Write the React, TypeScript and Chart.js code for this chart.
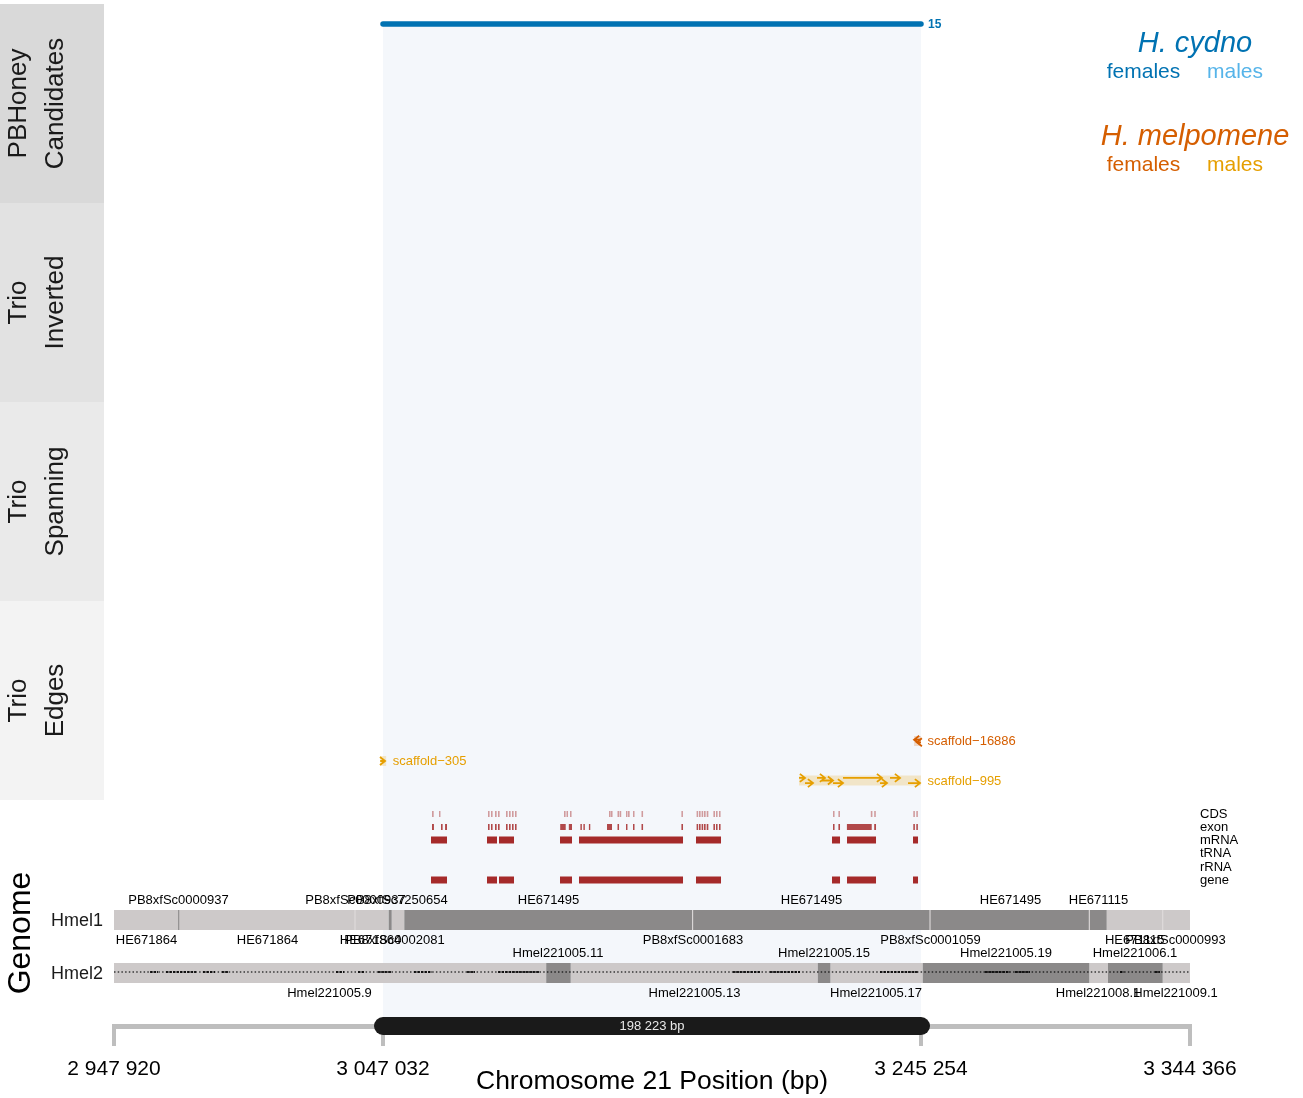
import React, { useEffect, useRef } from "react";
import { Chart, registerables } from "chart.js";

Chart.register(...registerables);

// ---------------- data ----------------
const X_RANGE = [2947920, 3344366];
const AXIS_TICKS = [2947920, 3047032, 3245254, 3344366];
const HIGHLIGHT_REGION = [3047032, 3245254];

const PBHONEY_CANDIDATES = [[3047032, 3245254]];
const PBHONEY_SUPPORT = [15];

const SCAFFOLD_NAMES = ["scaffold\u221216886", "scaffold\u2212305", "scaffold\u2212995"];
const SCAFFOLD_GROUP = ["melF", "melM", "melM"];
const SCAFFOLD_BANDS = [
  [3242700, 3245254],
  [3046000, 3048200],
  [3200308, 3245254],
];
// [scaffold index, start, end (arrow head), lane]
const SCAFFOLD_ALIGNMENTS = [
  [0, 3245254, 3242700, -0.5],
  [0, 3245254, 3243700, 0.5],
  [1, 3046000, 3047800, 0],
  [2, 3200308, 3202519, -1],
  [2, 3202519, 3205467, 1],
  [2, 3206940, 3209888, -1],
  [2, 3208783, 3212836, 0],
  [2, 3212836, 3216520, 1],
  [2, 3216520, 3230890, -1],
  [2, 3230153, 3232732, 1],
  [2, 3233837, 3237522, -1],
  [2, 3240469, 3244891, 1],
];

const FEATURE_TYPES = ["CDS", "exon", "mRNA", "tRNA", "rRNA", "gene"];
const CDS = [
  [3065087, 3065700], [3067666, 3068200],
  [3085720, 3086300], [3086826, 3087400], [3088299, 3088900], [3089405, 3090000],
  [3092352, 3092950], [3093458, 3094050], [3094563, 3095150], [3095668, 3096250],
  [3113723, 3114300], [3114643, 3115200], [3115933, 3116500],
  [3130303, 3130900], [3131040, 3131600], [3133435, 3134000], [3134208, 3134800],
  [3136566, 3137100], [3137303, 3137900], [3139146, 3139700], [3142277, 3142850],
  [3156979, 3157550],
  [3162579, 3163150], [3163463, 3164050], [3164421, 3165000], [3165306, 3165900],
  [3166300, 3166900], [3168769, 3169350], [3169727, 3170300], [3170832, 3171400],
  [3212836, 3213400], [3214825, 3215400],
  [3226763, 3227350], [3228016, 3228600],
  [3242422, 3243000], [3243527, 3244100],
];
const EXON = [
  [3065087, 3065800], [3068400, 3069000], [3069900, 3070614],
  [3085720, 3086300], [3086826, 3087400], [3088299, 3088900], [3089405, 3090000],
  [3092352, 3092950], [3093458, 3094050], [3094563, 3095150], [3095668, 3096250],
  [3112323, 3114349], [3115500, 3116670],
  [3119765, 3120300], [3120870, 3121400], [3122897, 3123400],
  [3129566, 3131408], [3133435, 3134000], [3136566, 3137100], [3139146, 3139700], [3142277, 3142850],
  [3156979, 3157568],
  [3162579, 3163150], [3163463, 3164050], [3164421, 3165000], [3165306, 3165900],
  [3166300, 3166900], [3168769, 3169350], [3169727, 3170300], [3170832, 3171400],
  [3212836, 3213400], [3214825, 3215415],
  [3217957, 3227095], [3228016, 3228679],
  [3242422, 3243000], [3243527, 3244100],
];
const MRNA = [
  [3064719, 3070614], [3085352, 3089036], [3089773, 3095300], [3112249, 3116670],
  [3119249, 3157568], [3162358, 3171569], [3212467, 3215415], [3217994, 3228679],
  [3242312, 3244154],
];
const TRNA: number[][] = [];
const RRNA: number[][] = [];
const GENE = [
  [3064719, 3070614], [3085352, 3089036], [3089773, 3095300], [3112249, 3116670],
  [3119249, 3157568], [3162358, 3171569], [3212467, 3215415], [3217994, 3228679],
  [3242312, 3244154],
];

const HMEL1_CONTIGS = [
  [2947920, 3049133], [3049133, 3050239], [3050239, 3054881], [3054881, 3313680], [3313680, 3344366],
];
const HMEL1_SHADE = ["light", "dark", "light", "dark", "light"];
const HMEL1_BREAKS = [2971759, 3036716, 3161105, 3248575, 3307269, 3334314];
const HMEL1_BREAK_SHADE = ["dark", "pale", "pale", "pale", "pale", "pale"];
const HMEL1_TOP_LABELS = ["PB8xfSc0000937", "PB8xfSc0000937", "PB8xfSc7250654", "HE671495", "HE671495", "HE671495", "HE671115"];
const HMEL1_TOP_POS = [2971685, 3036901, 3052376, 3108012, 3204914, 3278235, 3310659];
const HMEL1_BOTTOM_LABELS = ["HE671864", "HE671864", "HE671864", "PB8xfSc0002081", "PB8xfSc0001683", "PB8xfSc0001059", "HE671115", "PB8xfSc0000993"];
const HMEL1_BOTTOM_POS = [2959895, 3004477, 3042427, 3051270, 3161253, 3248759, 3323997, 3339030];

const HMEL2_CONTIGS = [
  [2947920, 3107164], [3107164, 3116191], [3116191, 3207235], [3207235, 3211878],
  [3211878, 3245886], [3245886, 3307269], [3307269, 3314159], [3314159, 3334314], [3334314, 3344366],
];
const HMEL2_SHADE = ["light", "dark", "light", "dark", "light", "dark", "light", "dark", "light"];
const HMEL2_GAPS = [
  [2961184, 2964132], [2967079, 2978133], [2980712, 2985133], [2987713, 2989923],
  [3029716, 3032664], [3037822, 3040033], [3045191, 3050349], [3058455, 3065087],
  [3077983, 3080930], [3089405, 3104880], [3175991, 3185939], [3189623, 3200677],
  [3230153, 3244154], [3268840, 3278051], [3279893, 3285420], [3318581, 3320055],
  [3331476, 3333319],
];
const HMEL2_TOP_LABELS = ["Hmel221005.11", "Hmel221005.15", "Hmel221005.19", "Hmel221006.1"];
const HMEL2_TOP_POS = [3111512, 3209520, 3276577, 3324107];
const HMEL2_BOTTOM_LABELS = ["Hmel221005.9", "Hmel221005.13", "Hmel221005.17", "Hmel221008.1", "Hmel221009.1"];
const HMEL2_BOTTOM_POS = [3027321, 3161805, 3228679, 3310475, 3339030];

// ---------------- layout & style ----------------
const W = 1303;
const H = 1098;
const PLOT = { left: 114, right: 1190, top: 4, bottom: 1026 };
const STRIP_W = 104;
const FONT = '"Liberation Sans", Arial, Helvetica, sans-serif';
const STRIPS = [
  { lines: ["PBHoney", "Candidates"], top: 4, bottom: 203, fill: "#D9D9D9" },
  { lines: ["Trio", "Inverted"], top: 203, bottom: 402, fill: "#E2E2E2" },
  { lines: ["Trio", "Spanning"], top: 402, bottom: 601, fill: "#EAEAEA" },
  { lines: ["Trio", "Edges"], top: 601, bottom: 800, fill: "#F3F3F3" },
];
const ROW = {
  pbhoney: 24,
  scaffold: [741, 761, 780.5],
  feature: [814, 827, 840, 853, 867, 880],
  hmel1: 920, hmel1Top: 900, hmel1Bottom: 940,
  hmel2: 973, hmel2Top: 953, hmel2Bottom: 993,
  axisBar: 1026,
};
const LANE_OFFSET = 2.6;
const COLORS: Record<string, string> = {
  cydF: "#0072B2", cydM: "#56B4E9", melF: "#D55E00", melM: "#E69F00",
  melFBand: "rgba(213,94,0,0.2)", melMBand: "rgba(230,159,0,0.2)",
  feature: "#A52A2A", cds: "rgba(165,42,42,0.45)", exon: "rgba(165,42,42,0.85)",
  light: "#CDC9C9", dark: "#8B8989", pale: "#E0DCDC",
  highlight: "#F4F7FB", axis: "#BEBEBE", axisBar: "#1A1A1A", text: "#1A1A1A",
};

function fmtBp(v: number) {
  return String(Math.round(v)).replace(/\B(?=(\d{3})+(?!\d))/g, " ");
}

function rects(ranges: number[][], y: number, width: number, color: string, extra: any = {}) {
  const data: any[] = [];
  ranges.forEach(([a, b]) => {
    data.push({ x: a, y }, { x: b, y }, { x: b, y: null });
  });
  return {
    type: "line",
    data,
    borderColor: color,
    backgroundColor: color,
    borderWidth: width,
    borderCapStyle: "butt",
    borderDash: [100000, 0],
    pointRadius: 0,
    pointHoverRadius: 0,
    spanGaps: false,
    fill: false,
    clip: false,
    ...extra,
  };
}

function txt(ctx: CanvasRenderingContext2D, s: string, x: number, y: number, o: any) {
  ctx.save();
  ctx.font = `${o.style || "normal"} ${o.weight || "normal"} ${o.size}px ${FONT}`;
  ctx.fillStyle = o.color || "#000";
  ctx.textAlign = o.align || "center";
  ctx.textBaseline = o.baseline || "middle";
  if (o.rotate) {
    ctx.translate(x, y);
    ctx.rotate(o.rotate);
    ctx.fillText(s, 0, 0);
  } else {
    ctx.fillText(s, x, y);
  }
  ctx.restore();
}

const overlayPlugin = {
  id: "overlay",
  beforeDraw(chart: any) {
    const ctx = chart.ctx as CanvasRenderingContext2D;
    ctx.save();
    ctx.fillStyle = "#FFFFFF";
    ctx.fillRect(0, 0, W, H);
    STRIPS.forEach((s) => {
      ctx.fillStyle = s.fill;
      ctx.fillRect(0, s.top, STRIP_W, s.bottom - s.top);
      const cy = (s.top + s.bottom) / 2;
      txt(ctx, s.lines[0], 25.5, cy, { size: 26, color: COLORS.text, baseline: "alphabetic", rotate: -Math.PI / 2 });
      txt(ctx, s.lines[1], 62.5, cy, { size: 26, color: COLORS.text, baseline: "alphabetic", rotate: -Math.PI / 2 });
    });
    ctx.restore();
  },
  afterDatasetsDraw(chart: any) {
    const ctx = chart.ctx as CanvasRenderingContext2D;
    const xs = chart.scales.x;
    const ys = chart.scales.y;
    ctx.save();
    ctx.lineWidth = 1.8;
    ctx.lineCap = "butt";
    ctx.lineJoin = "miter";
    SCAFFOLD_ALIGNMENTS.forEach(([si, s, e, lane]) => {
      const color = COLORS[SCAFFOLD_GROUP[si]];
      const y = ys.getPixelForValue(ROW.scaffold[si]) + lane * LANE_OFFSET;
      const x1 = xs.getPixelForValue(s);
      const x2 = xs.getPixelForValue(e);
      const dir = x2 >= x1 ? 1 : -1;
      const L = 6.5;
      const a = (38 * Math.PI) / 180;
      ctx.strokeStyle = color;
      ctx.beginPath();
      ctx.moveTo(x1, y);
      ctx.lineTo(x2, y);
      ctx.moveTo(x2 - dir * L * Math.cos(a), y - L * Math.sin(a));
      ctx.lineTo(x2, y);
      ctx.lineTo(x2 - dir * L * Math.cos(a), y + L * Math.sin(a));
      ctx.stroke();
    });
    ctx.restore();
  },
  afterDraw(chart: any) {
    const ctx = chart.ctx as CanvasRenderingContext2D;
    const xs = chart.scales.x;
    const ys = chart.scales.y;
    // PBHoney support count
    PBHONEY_CANDIDATES.forEach((c, i) => {
      txt(ctx, String(PBHONEY_SUPPORT[i]), xs.getPixelForValue(c[1]) + 7, ys.getPixelForValue(ROW.pbhoney) + 1, {
        size: 12, weight: "bold", color: COLORS.cydF, align: "left",
      });
    });
    // scaffold labels
    SCAFFOLD_NAMES.forEach((n, i) => {
      txt(ctx, n, xs.getPixelForValue(SCAFFOLD_BANDS[i][1]) + 6.5, ys.getPixelForValue(ROW.scaffold[i]) + 0.5, {
        size: 13, color: COLORS[SCAFFOLD_GROUP[i]], align: "left",
      });
    });
    // feature type labels
    FEATURE_TYPES.forEach((f, i) => {
      txt(ctx, f, PLOT.right + 10, ys.getPixelForValue(ROW.feature[i]) + 0.5, { size: 13, color: "#000", align: "left" });
    });
    // contig labels
    const lab = (names: string[], pos: number[], row: number) =>
      names.forEach((n, i) => txt(ctx, n, xs.getPixelForValue(pos[i]), ys.getPixelForValue(row) + 0.5, { size: 13, color: "#000" }));
    lab(HMEL1_TOP_LABELS, HMEL1_TOP_POS, ROW.hmel1Top);
    lab(HMEL1_BOTTOM_LABELS, HMEL1_BOTTOM_POS, ROW.hmel1Bottom);
    lab(HMEL2_TOP_LABELS, HMEL2_TOP_POS, ROW.hmel2Top);
    lab(HMEL2_BOTTOM_LABELS, HMEL2_BOTTOM_POS, ROW.hmel2Bottom);
    // genome strip labels
    txt(ctx, "Genome", 30, 933, { size: 32, color: "#000", baseline: "alphabetic", rotate: -Math.PI / 2 });
    txt(ctx, "Hmel1", 103, ys.getPixelForValue(ROW.hmel1) + 1, { size: 18, color: COLORS.text, align: "right" });
    txt(ctx, "Hmel2", 103, ys.getPixelForValue(ROW.hmel2) + 1, { size: 18, color: COLORS.text, align: "right" });
    // region length
    const rx = (xs.getPixelForValue(HIGHLIGHT_REGION[0]) + xs.getPixelForValue(HIGHLIGHT_REGION[1])) / 2;
    txt(ctx, `${fmtBp(HIGHLIGHT_REGION[1] - HIGHLIGHT_REGION[0] + 1)} bp`, rx, ys.getPixelForValue(ROW.axisBar) + 0.5, {
      size: 13, color: "#E8E8E8",
    });
    // axis title
    txt(ctx, "Chromosome 21 Position (bp)", (PLOT.left + PLOT.right) / 2, 1082, { size: 26.5, color: "#000" });
    // legend
    txt(ctx, "H. cydno", 1195, 43.5, { size: 29, style: "italic", color: COLORS.cydF });
    txt(ctx, "females", 1143.5, 72, { size: 21, color: COLORS.cydF });
    txt(ctx, "males", 1235, 72, { size: 21, color: COLORS.cydM });
    txt(ctx, "H. melpomene", 1195, 136.5, { size: 29, style: "italic", color: COLORS.melF });
    txt(ctx, "females", 1143.5, 165, { size: 21, color: COLORS.melF });
    txt(ctx, "males", 1235, 165, { size: 21, color: COLORS.melM });
  },
};

export default function App() {
  const ref = useRef<HTMLCanvasElement>(null);
  useEffect(() => {
    document.body.style.margin = "0";
    Chart.defaults.font.family = FONT;

    const shadeGroups = (contigs: number[][], shades: string[], key: string) =>
      contigs.filter((_, i) => shades[i] === key);
    const breaksAsRanges = (key: string) =>
      HMEL1_BREAKS.filter((_, i) => HMEL1_BREAK_SHADE[i] === key).map((b) => [b - 200, b + 200]);

    const datasets: any[] = [
      rects([HIGHLIGHT_REGION], (ROW.pbhoney + PLOT.bottom) / 2, PLOT.bottom - ROW.pbhoney, COLORS.highlight),
      rects(PBHONEY_CANDIDATES, ROW.pbhoney, 5.5, COLORS.cydF, { borderCapStyle: "round", borderDash: [] }),
      ...SCAFFOLD_BANDS.map((b, i) =>
        rects([b], ROW.scaffold[i], 10, COLORS[SCAFFOLD_GROUP[i] + "Band"])
      ),
      rects(shadeGroups(HMEL1_CONTIGS, HMEL1_SHADE, "light"), ROW.hmel1, 20, COLORS.light),
      rects(shadeGroups(HMEL1_CONTIGS, HMEL1_SHADE, "dark"), ROW.hmel1, 20, COLORS.dark),
      rects(breaksAsRanges("dark"), ROW.hmel1, 20, COLORS.dark),
      rects(breaksAsRanges("pale"), ROW.hmel1, 20, COLORS.pale),
      rects(shadeGroups(HMEL2_CONTIGS, HMEL2_SHADE, "light"), ROW.hmel2, 20, COLORS.light),
      rects(shadeGroups(HMEL2_CONTIGS, HMEL2_SHADE, "dark"), ROW.hmel2, 20, COLORS.dark),
      rects([X_RANGE], ROW.hmel2 - 1, 1.8, "rgba(0,0,0,0.55)", { borderDash: [1.5, 2.2] }),
      rects(HMEL2_GAPS, ROW.hmel2 - 1, 2, "rgba(0,0,0,0.85)", { borderDash: [2.5, 1] }),
      rects(CDS, ROW.feature[0], 6, COLORS.cds),
      rects(EXON, ROW.feature[1], 6, COLORS.exon),
      rects(MRNA, ROW.feature[2], 7, COLORS.feature),
      rects(TRNA, ROW.feature[3], 7, COLORS.feature),
      rects(RRNA, ROW.feature[4], 7, COLORS.feature),
      rects(GENE, ROW.feature[5], 7, COLORS.feature),
      rects([HIGHLIGHT_REGION], ROW.axisBar, 18, COLORS.axisBar, { borderCapStyle: "round", borderDash: [] }),
    ];
    datasets.forEach((d, i) => (d.order = datasets.length - i));

    const chart = new Chart(ref.current as HTMLCanvasElement, {
      type: "line",
      data: { datasets },
      options: {
        responsive: false,
        maintainAspectRatio: false,
        animation: false,
        events: [],
        layout: { padding: { left: PLOT.left, right: W - PLOT.right, top: PLOT.top, bottom: 0 } },
        plugins: { legend: { display: false }, tooltip: { enabled: false }, title: { display: false } },
        scales: {
          x: {
            type: "linear",
            min: X_RANGE[0],
            max: X_RANGE[1],
            bounds: "data",
            position: "bottom",
            afterBuildTicks: (s: any) => {
              s.ticks = AXIS_TICKS.map((v) => ({ value: v }));
            },
            afterFit: (s: any) => {
              s.height = H - PLOT.bottom;
            },
            border: { display: true, color: COLORS.axis, width: 5 },
            grid: {
              display: true,
              drawOnChartArea: false,
              drawTicks: true,
              tickLength: 20,
              tickWidth: 4,
              tickColor: COLORS.axis,
              color: COLORS.axis,
              lineWidth: 4,
            },
            ticks: {
              autoSkip: false,
              maxRotation: 0,
              minRotation: 0,
              padding: 11,
              color: "#000",
              font: { size: 21, family: FONT },
              callback: (v: any) => fmtBp(Number(v)),
            },
          },
          y: {
            type: "linear",
            min: PLOT.top,
            max: PLOT.bottom,
            reverse: true,
            display: false,
          },
        },
      } as any,
      plugins: [overlayPlugin],
    } as any);
    return () => chart.destroy();
  }, []);

  return (
    <div style={{ position: "absolute", left: 0, top: 0, width: W, height: H, background: "#fff" }}>
      <canvas ref={ref} width={W} height={H} style={{ display: "block", width: W, height: H }} />
    </div>
  );
}
